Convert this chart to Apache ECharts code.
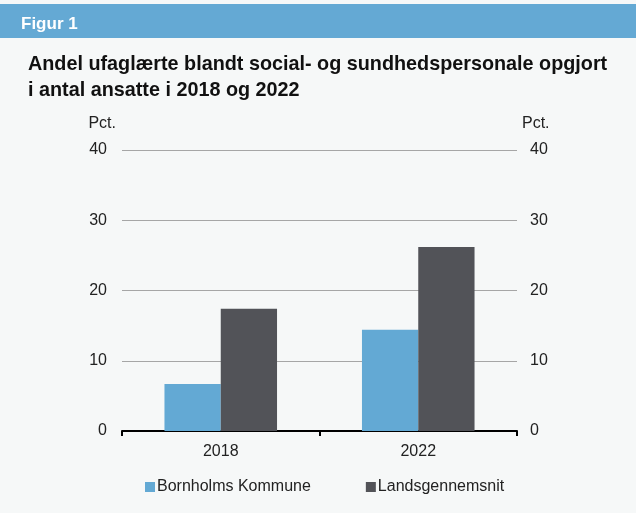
<!DOCTYPE html>
<html>
<head>
<meta charset="utf-8">
<script src="https://cdn.jsdelivr.net/npm/echarts@6/dist/echarts.min.js"></script>
<style>
  html, body { margin: 0; padding: 0; background: #f6f8f8; }
  #chart { width: 636px; height: 513px; }
</style>
</head>
<body>
<div id="chart"></div>
<script>
// data
var years = ["2018", "2022"];
var bornholm = [6.7, 14.4];
var landsgns = [17.4, 26.2];
var yTicks = [0, 10, 20, 30, 40];

(function () {
  var myChart = echarts.init(document.getElementById('chart'));
  var font = 'Liberation Sans, Arial, sans-serif';

  // fælles stil for begge y-akser
  function yAxis(pos, showSplit) {
    return {
      type: 'value',
      position: pos,
      min: yTicks[0],
      max: yTicks[yTicks.length - 1],
      interval: yTicks[1] - yTicks[0],
      name: 'Pct.',
      nameLocation: 'end',
      nameGap: 18,
      nameTextStyle: {
        color: '#222',
        fontSize: 16,
        fontFamily: font,
        align: pos === 'left' ? 'right' : 'left',
        padding: pos === 'left' ? [0, 6, 0, 0] : [0, 0, 0, 5]
      },
      axisLine: { show: false },
      axisTick: { show: false },
      axisLabel: {
        color: '#222',
        fontSize: 16,
        fontFamily: font,
        margin: pos === 'left' ? 15 : 13
      },
      splitLine: {
        show: showSplit,
        lineStyle: { color: '#a6a6a6', width: 1 }
      }
    };
  }

  var option = {
    backgroundColor: '#f6f8f8',
    color: ['#63a9d4', '#525358'],
    graphic: [
      {
        type: 'rect',
        shape: { x: 0, y: 4, width: 636, height: 34 },
        style: { fill: '#64a9d4' },
        silent: true
      }
    ],
    title: [
      {
        text: 'Figur 1',
        left: 16,
        top: 11,
        textStyle: { color: '#fff', fontSize: 17, fontWeight: 'bold', fontFamily: font }
      },
      {
        text: 'Andel ufaglærte blandt social- og sundhedspersonale opgjort\ni antal ansatte i 2018 og 2022',
        left: 23,
        top: 47,
        textStyle: { color: '#111', fontSize: 19.8, fontWeight: 'bold', fontFamily: font, lineHeight: 26 }
      }
    ],
    grid: {
      left: 122,
      right: 119,
      top: 150,
      bottom: 82
    },
    legend: {
      top: 474,
      left: 140,
      itemWidth: 10,
      itemHeight: 10,
      itemGap: 55,
      icon: 'rect',
      textStyle: { color: '#222', fontSize: 16, fontFamily: font, padding: [0, 0, 0, -3] },
      data: ['Bornholms Kommune', 'Landsgennemsnit']
    },
    xAxis: {
      type: 'category',
      data: years,
      axisLine: { lineStyle: { color: '#000', width: 2 } },
      axisTick: { show: true, length: 5, lineStyle: { color: '#000', width: 2 } },
      axisLabel: { color: '#222', fontSize: 16, fontFamily: font, margin: 13 }
    },
    yAxis: [yAxis('left', true), yAxis('right', false)],
    series: [
      {
        name: 'Bornholms Kommune',
        type: 'bar',
        data: bornholm,
        barGap: '0%',
        barCategoryGap: '43%',
        yAxisIndex: 0
      },
      {
        name: 'Landsgennemsnit',
        type: 'bar',
        data: landsgns,
        barGap: '0%',
        barCategoryGap: '43%',
        yAxisIndex: 0
      }
    ]
  };

  myChart.setOption(option);
  window.addEventListener('resize', function () {
    myChart.resize();
  });
})();
</script>
</body>
</html>
